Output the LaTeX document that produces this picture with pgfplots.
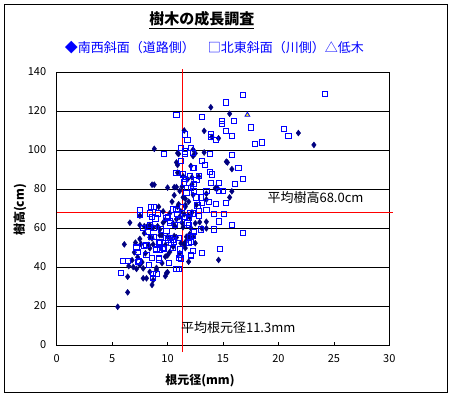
\documentclass[border=0pt]{standalone}
\usepackage{fontspec}
\setmainfont{Noto Sans CJK JP}
\usepackage{pgfplots}
\pgfplotsset{compat=1.18}
\definecolor{navyd}{HTML}{000080}
\definecolor{blueb}{HTML}{0000FF}
\definecolor{redl}{HTML}{FF0000}
\begin{document}
\begin{tikzpicture}[x=1pt,y=1pt]
\fill[white] (-56.7,-53) rectangle (396.3,345);
\draw[black, line width=0.9pt] (-52.2,-47.5) rectangle (390.8,340.5);
\begin{axis}[
  scale only axis, width=332.6pt, height=273pt,
  xmin=0, xmax=30, ymin=0, ymax=140,
  xtick={0,5,...,30}, ytick={0,20,...,140},
  ymajorgrids, grid style={black, line width=0.8pt},
  axis line style={black, line width=0.8pt},
  tick align=inside, xtick pos=bottom, ytick pos=left,
  major tick length=3pt,
  ytick style={draw=none},
  xtick style={black, line width=0.6pt},
  tick label style={font=\fontsize{11}{12}\selectfont},
  /pgf/number format/assume math mode=true,
  xticklabel style={yshift=-6pt},
  yticklabel style={xshift=-7pt},
  clip=false,
]
% 南西斜面（道路側）
\addplot[only marks, mark=diamond*, mark size=3pt, color=navyd, mark options={fill=navyd, draw=navyd}] table {
x y
13.9 121.9
15.6 118.6
11.5 110.0
13.3 109.8
14.6 106.0
14.0 106.7
21.8 108.7
23.2 102.6
8.8 100.6
11.0 98.0
10.9 98.4
12.3 100.2
12.5 98.3
12.3 96.9
13.3 98.7
15.3 94.0
15.4 93.6
15.8 90.2
10.8 93.6
10.9 92.3
12.1 91.8
10.9 88.4
11.4 86.5
11.8 85.0
12.2 86.0
12.8 86.4
8.6 82.2
8.8 82.2
10.0 80.7
10.6 80.9
10.8 81.0
11.3 81.2
12.2 82.4
14.3 80.5
14.5 80.4
15.8 78.8
15.6 75.7
10.6 76.8
11.1 79.0
11.4 75.7
11.6 75.0
13.5 77.6
13.5 74.6
11.6 71.8
11.0 72.2
10.9 70.9
11.6 70.9
9.2 70.9
12.6 71.8
11.9 66.2
12.0 65.5
7.5 66.3
6.6 62.7
7.5 61.5
7.9 60.9
8.1 60.5
8.4 61.5
8.7 60.2
9.1 60.9
9.3 59.3
9.6 62.7
9.8 64.1
10.5 62.4
10.7 60.7
11.1 65.8
11.3 62.7
11.4 60.4
12.1 60.0
12.5 62.4
13.1 59.8
13.5 59.8
12.9 63.0
13.5 63.2
12.0 56.9
11.9 55.2
9.3 56.3
9.5 56.3
10.0 55.5
10.2 55.0
10.6 55.9
10.8 55.2
7.5 54.4
7.9 57.3
8.4 55.2
6.1 51.6
7.1 52.5
7.6 51.8
8.3 51.3
8.7 51.6
9.8 51.3
10.5 50.4
11.2 52.2
11.5 51.6
12.5 52.2
11.6 52.8
11.6 49.7
12.3 55.5
8.6 54.7
8.4 49.6
7.0 47.5
7.3 45.0
6.8 43.5
7.7 42.5
9.8 45.3
10.0 46.0
10.2 47.7
11.1 47.0
6.5 40.5
6.9 40.0
7.2 39.0
7.5 41.0
7.8 39.3
8.4 37.5
9.0 39.5
9.0 38.5
9.9 36.9
9.8 35.3
10.0 37.3
6.4 35.0
7.8 34.2
8.1 34.2
8.7 33.3
8.6 30.8
6.4 27.0
5.5 19.6
11.9 42.7
14.6 43.6
11.7 55.5
8.0 47.0
9.5 42.0
12.2 68.0
10.2 67.5
9.6 68.5
10.4 73.5
12.3 77.0
11.9 73.5
11.2 68.5
11.5 67.0
10.8 64.5
};
% 北東斜面（川側）
\addplot[only marks, mark=square, mark size=2.6pt, color=blueb, mark options={line width=0.9pt}] table {
x y
16.8 128.3
24.2 128.7
15.3 124.4
10.8 118.1
13.1 116.8
14.9 115.0
14.9 113.3
16.0 114.9
17.5 111.6
15.3 109.9
15.8 107.2
20.5 110.9
20.9 107.0
17.9 102.9
18.5 103.9
11.6 108.0
13.9 108.0
11.8 105.1
14.4 105.1
13.9 106.5
11.2 101.0
12.1 101.2
9.7 97.9
11.6 99.3
11.6 97.9
12.3 98.5
13.8 97.9
15.8 97.3
13.1 94.2
13.4 92.2
11.2 94.4
12.4 90.6
16.4 90.6
10.8 88.2
12.3 90.8
13.8 88.6
11.4 87.5
14.0 87.5
12.0 86.8
12.8 86.5
16.8 85.0
11.6 85.1
12.6 84.6
11.5 83.4
11.8 80.7
12.4 82.7
13.9 82.9
14.6 83.0
16.1 82.4
12.1 80.7
12.4 78.8
14.6 78.8
15.0 78.8
13.5 79.0
11.7 78.1
12.6 75.7
13.0 75.7
13.7 73.3
15.3 73.0
12.7 71.6
13.1 72.8
14.4 72.2
7.5 69.2
8.5 70.9
8.8 70.9
8.4 67.5
8.6 65.5
9.1 67.5
10.0 65.8
10.2 63.7
10.2 62.4
10.8 69.2
10.9 67.2
12.0 67.5
12.8 68.9
12.8 66.3
13.5 69.1
14.2 67.0
15.1 67.0
14.6 63.4
15.8 61.7
16.8 57.4
13.0 59.3
14.2 59.3
12.1 52.8
14.7 49.4
8.4 61.7
8.8 60.2
7.8 60.0
8.2 57.9
7.2 50.4
7.9 50.8
9.4 59.3
9.9 58.5
10.0 53.8
10.3 52.3
10.5 54.0
10.7 61.7
9.0 49.4
12.0 55.5
11.9 52.5
7.5 66.8
12.4 57.8
12.3 55.9
13.1 47.0
12.1 46.2
11.1 46.2
11.2 44.4
11.1 49.1
10.1 42.2
9.2 43.9
8.3 41.0
7.3 42.6
6.0 42.9
6.4 42.9
5.8 37.1
8.7 36.4
9.0 36.4
8.7 34.2
10.8 39.0
11.0 39.0
8.5 55.5
8.8 55.5
7.2 49.9
7.3 47.8
8.1 51.3
9.7 49.2
9.3 48.7
9.9 54.7
10.6 52.8
9.2 52.2
8.9 64.9
9.9 65.0
11.6 65.8
11.9 61.5
9.3 53.0
10.2 54.7
11.0 54.7
10.5 49.6
11.0 44.5
9.2 44.5
9.6 49.6
8.1 46.2
8.6 44.5
9.0 48.7
12.3 48.2
12.1 45.8
7.4 43.1
12.3 67.5
11.9 65.0
11.8 62.5
10.5 69.5
11.3 70.5
11.0 64.0
};
% 低木
\addplot[only marks, mark=triangle*, mark size=2.8pt, mark options={fill=yellow, draw=blueb, line width=0.8pt}] coordinates {(17.2,118.0)};
% 平均線
\addplot[redl, line width=0.9pt] coordinates {(11.3,-3.6) (11.3,141.5)};
\addplot[redl, line width=0.9pt] coordinates {(0,68) (30.3,68)};
\node[anchor=west, font=\fontsize{13}{14}\selectfont, inner sep=0pt] at (axis cs:19.0,75.4) {平均樹高68.0cm};
\node[anchor=west, font=\fontsize{13}{14}\selectfont, inner sep=0pt] at (axis cs:11.2,8.7) {平均根元径11.3mm};
\end{axis}
\node[font=\bfseries\fontsize{15}{16}\selectfont] at (145.3,325) {\underline{樹木の成長調査}};
\node[font=\fontsize{13}{14}\selectfont, text=blueb] at (157.8,297) {◆南西斜面（道路側）　□北東斜面（川側）△低木};
\node[font=\bfseries\fontsize{12}{13}\selectfont, rotate=90] at (-36.7,135) {樹高(cm)};
\node[font=\bfseries\fontsize{12}{13}\selectfont] at (143.3,-36) {根元径(mm)};
\end{tikzpicture}
\end{document}
